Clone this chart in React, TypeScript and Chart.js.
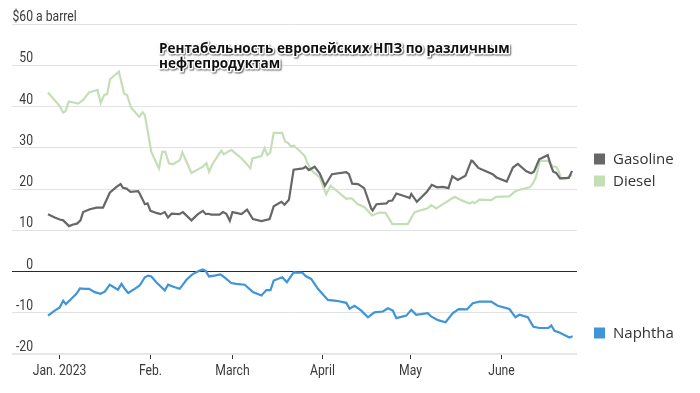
import React, { useEffect, useRef } from "react";
import { Chart, registerables } from "chart.js";

Chart.register(...registerables);

// Days counted from Jan 1, 2023 (day 0)
const monthTickDays = [0, 31, 59, 90, 120, 151];
const monthTickLabels = ["Jan. 2023", "Feb.", "March", "April", "May", "June"];
const yTickValues = [60, 50, 40, 30, 20, 10, 0, -10, -20];

const gasolineDays = [-3.7, -1.4, 0.3, 1.5, 3.5, 4.9, 6.2, 7.4, 8.3, 10.6, 12.9, 15.1, 17.4, 19.7, 21.1, 21.9, 23.1, 24.5, 27.1, 27.6, 29.4, 30.3, 31.3, 33.3, 34.7, 36.2, 37.3, 38.5, 41.1, 42.4, 45.3, 47.5, 49.2, 50.2, 51.0, 52.1, 54.9, 56.1, 57.2, 58.4, 59.3, 62.4, 64.3, 66.3, 69.2, 72.0, 73.4, 76.0, 77.1, 78.6, 80.2, 83.4, 84.3, 85.4, 87.4, 89.1, 90.9, 93.3, 98.2, 99.1, 100.2, 102.2, 104.3, 106.7, 107.2, 108.5, 111.9, 112.7, 113.9, 115.3, 119.2, 119.8, 120.4, 122.3, 125.8, 127.4, 129.2, 131.2, 133.1, 134.4, 136.3, 138.9, 140.9, 141.3, 143.3, 148.2, 149.5, 153.0, 155.1, 156.8, 159.7, 161.3, 162.3, 164.1, 167.0, 168.2, 168.9, 169.9, 171.2, 174.2, 175.3];
const gasolineValues = [13.9, 13.1, 12.6, 12.4, 11.0, 11.4, 11.6, 12.4, 14.4, 15.1, 15.5, 15.5, 19.1, 20.5, 21.2, 20.3, 20.1, 19.3, 19.5, 18.9, 16.3, 16.5, 14.7, 14.2, 13.9, 14.4, 13.1, 14.0, 13.9, 14.4, 12.4, 13.9, 14.7, 13.9, 14.0, 13.8, 13.8, 14.4, 14.0, 12.3, 14.4, 13.9, 15.0, 12.7, 12.2, 12.7, 15.8, 16.9, 16.2, 17.4, 24.7, 25.0, 25.4, 24.6, 25.4, 23.8, 20.8, 23.6, 24.1, 23.6, 21.3, 21.2, 20.2, 15.3, 14.8, 16.3, 16.5, 17.1, 17.2, 18.9, 18.0, 17.8, 18.8, 16.9, 19.4, 21.0, 20.4, 20.5, 20.2, 23.1, 22.2, 23.2, 26.9, 26.8, 25.1, 23.6, 22.8, 21.8, 25.2, 26.1, 24.3, 23.8, 24.2, 27.2, 28.2, 25.4, 24.2, 23.9, 22.6, 22.7, 24.4];

const dieselDays = [-3.7, 0.3, 1.5, 2.3, 3.4, 6.6, 8.3, 10.3, 13.2, 14.3, 15.5, 16.5, 17.5, 20.5, 22.3, 23.3, 24.6, 27.4, 28.6, 29.4, 31.6, 34.2, 35.3, 36.4, 37.6, 39.0, 41.3, 42.2, 45.3, 49.2, 50.4, 51.3, 52.6, 55.5, 56.3, 58.9, 61.8, 63.5, 65.4, 66.1, 69.2, 70.3, 71.2, 72.2, 73.4, 76.3, 77.3, 78.4, 79.2, 80.3, 82.3, 84.0, 84.8, 86.2, 89.1, 91.3, 92.8, 98.2, 100.0, 101.9, 104.4, 107.0, 109.4, 111.6, 113.9, 119.2, 121.5, 126.0, 127.2, 128.9, 135.2, 137.4, 140.3, 141.4, 142.0, 143.7, 147.7, 149.4, 153.9, 155.6, 156.8, 160.8, 161.9, 163.0, 164.3, 167.2, 168.9, 169.9, 170.8, 171.6, 173.3, 175.3];
const dieselValues = [43.4, 40.1, 38.5, 38.9, 41.2, 40.7, 41.6, 43.4, 44.0, 40.9, 42.8, 43.0, 46.6, 48.5, 43.1, 42.8, 39.8, 37.5, 38.6, 37.9, 29.0, 25.0, 29.0, 29.0, 26.2, 26.0, 27.0, 28.9, 23.9, 25.4, 26.3, 24.2, 26.2, 29.3, 28.4, 29.5, 27.8, 26.6, 25.0, 27.4, 28.0, 29.9, 28.2, 28.8, 33.6, 33.6, 31.5, 31.1, 30.3, 30.5, 29.2, 28.0, 26.5, 24.6, 22.8, 18.7, 20.8, 17.6, 17.8, 16.4, 15.6, 13.6, 14.3, 14.2, 11.5, 11.5, 14.4, 15.3, 16.1, 15.3, 18.1, 17.3, 16.5, 16.9, 16.5, 17.4, 17.3, 18.1, 18.2, 19.3, 19.7, 20.4, 21.3, 22.9, 26.8, 26.8, 25.4, 25.4, 24.2, 22.6, 22.6, 23.4];

const naphthaDays = [-3.7, -1.4, 0.3, 1.5, 2.4, 4.3, 6.0, 7.2, 8.9, 10.3, 12.3, 14.2, 15.7, 17.4, 20.2, 21.4, 22.5, 23.7, 25.9, 27.6, 29.4, 30.5, 31.6, 33.3, 36.2, 37.3, 39.6, 41.3, 43.6, 45.6, 47.8, 49.2, 50.2, 51.3, 53.2, 55.2, 56.7, 58.9, 60.6, 63.5, 66.3, 69.2, 70.9, 72.3, 73.4, 76.3, 77.9, 80.2, 83.2, 84.3, 86.2, 88.5, 91.9, 94.8, 98.2, 99.3, 101.0, 103.3, 105.6, 107.8, 110.7, 112.4, 114.1, 115.3, 118.7, 120.4, 122.1, 126.0, 127.2, 129.5, 132.1, 134.6, 136.6, 139.4, 141.4, 143.7, 147.7, 149.9, 153.9, 156.0, 157.3, 160.2, 162.1, 164.2, 167.2, 168.2, 169.3, 171.0, 174.4, 175.5];
const naphthaValues = [-10.7, -9.5, -8.7, -7.1, -7.9, -6.6, -5.4, -4.1, -4.2, -4.2, -5.0, -5.4, -4.9, -3.2, -4.4, -3.0, -4.2, -5.2, -4.2, -3.4, -1.4, -1.0, -1.2, -2.6, -4.6, -3.2, -3.8, -4.2, -2.0, -0.7, 0.1, 0.5, 0.1, -1.2, -1.0, -0.7, -1.5, -2.8, -3.0, -3.2, -5.0, -5.8, -4.5, -4.5, -2.2, -1.4, -2.6, -0.2, -0.3, -1.1, -1.8, -4.2, -6.9, -7.1, -7.6, -9.0, -8.3, -9.5, -11.1, -9.9, -9.7, -8.9, -9.5, -11.3, -10.7, -9.3, -10.5, -10.1, -10.9, -11.8, -12.3, -10.1, -9.1, -9.2, -7.7, -7.3, -7.3, -8.3, -9.1, -11.1, -10.5, -11.1, -13.4, -13.7, -13.7, -13.1, -14.4, -14.8, -16.0, -15.7];

const seriesNames = ["Gasoline", "Diesel", "Naphtha"];
const titleLines = ["Рентабельность европейских НПЗ по различным", "нефтепродуктам"];
const unitLabel = " a barrel";

const GAS = "#676767";
const DIESEL = "#c4dfb5";
const NAPH = "#3f95d8";

const toPts = (xs: number[], ys: number[]) => xs.map((x, i) => ({ x, y: ys[i] }));

const TICKFONT = "'Roboto', sans-serif";
const SANS = "'Open Sans', 'Noto Sans', sans-serif";
const SQUEEZE = 0.87;

export default function App() {
  const ref = useRef<HTMLCanvasElement | null>(null);

  useEffect(() => {
    document.body.style.margin = "0";
    const canvas = ref.current;
    if (!canvas) return;

    const drawNarrow = (ctx: CanvasRenderingContext2D, txt: string, x: number, y: number, align: "left" | "right" | "center") => {
      const w = ctx.measureText(txt).width * SQUEEZE;
      let left = x;
      if (align === "right") left = x - w;
      if (align === "center") left = x - w / 2;
      ctx.save();
      ctx.translate(left, y);
      ctx.scale(SQUEEZE, 1);
      ctx.textAlign = "left";
      ctx.fillText(txt, 0, 0);
      ctx.restore();
      return w;
    };

    const overlay = {
      id: "overlay",
      afterDraw(chart: any) {
        const ctx = chart.ctx as CanvasRenderingContext2D;
        const ys = chart.scales.y;
        const xs = chart.scales.x;
        const area = chart.chartArea;
        ctx.save();
        // y labels
        ctx.fillStyle = "#3a3a3a";
        ctx.font = `14px ${TICKFONT}`;
        ctx.textBaseline = "alphabetic";
        const labelRight = 33;
        yTickValues.forEach((v) => {
          const py = ys.getPixelForValue(v);
          const txt = v === 60 ? "$" + v : String(v);
          drawNarrow(ctx, txt, labelRight, py - 3, "right");
          if (v === 60) drawNarrow(ctx, unitLabel, labelRight, py - 3, "left");
        });
        // x ticks + labels
        ctx.strokeStyle = "#333";
        ctx.lineWidth = 1;
        monthTickDays.forEach((d, i) => {
          const px = Math.round(xs.getPixelForValue(d)) + 0.5;
          ctx.beginPath();
          ctx.moveTo(px, area.bottom + 1);
          ctx.lineTo(px, area.bottom + 5);
          ctx.stroke();
          drawNarrow(ctx, monthTickLabels[i], px, area.bottom + 21, "center");
        });
        // legend
        const legendY = [159, 181, 333];
        const legendColors = [GAS, DIESEL, NAPH];
        ctx.font = `15px ${SANS}`;
        ctx.textAlign = "left";
        ctx.textBaseline = "middle";
        seriesNames.forEach((n, i) => {
          ctx.fillStyle = legendColors[i];
          ctx.fillRect(594, legendY[i] - 5.5, 11, 11);
          ctx.fillStyle = "#333";
          ctx.fillText(n, 613, legendY[i] + 0.5);
        });
        // title with halo
        ctx.font = `bold 13.5px ${SANS}`;
        ctx.textBaseline = "alphabetic";
        ctx.textAlign = "left";
        const tBase = [53, 68];
        titleLines.forEach((t, i) => {
          ctx.save();
          ctx.shadowColor = "rgba(0,0,0,0.6)";
          ctx.shadowOffsetX = 1;
          ctx.shadowOffsetY = 1;
          ctx.shadowBlur = 1.5;
          ctx.strokeStyle = "#fff";
          ctx.lineWidth = 3;
          ctx.lineJoin = "round";
          ctx.strokeText(t, 159, tBase[i]);
          ctx.restore();
          ctx.fillStyle = "#111";
          ctx.fillText(t, 159, tBase[i]);
        });
        ctx.restore();
      },
    };

    const chart = new Chart(canvas, {
      type: "line",
      data: {
        datasets: [
          {
            label: seriesNames[0],
            data: toPts(gasolineDays, gasolineValues),
            borderColor: GAS,
            borderWidth: 2.2,
            pointRadius: 0,
            tension: 0,
            order: 1,
          },
          {
            label: seriesNames[1],
            data: toPts(dieselDays, dieselValues),
            borderColor: DIESEL,
            borderWidth: 2.2,
            pointRadius: 0,
            tension: 0,
            order: 2,
          },
          {
            label: seriesNames[2],
            data: toPts(naphthaDays, naphthaValues),
            borderColor: NAPH,
            borderWidth: 2.2,
            pointRadius: 0,
            tension: 0,
            order: 0,
          },
        ],
      },
      options: {
        responsive: false,
        animation: false,
        layout: { padding: { left: 12, right: 123, top: 24, bottom: 39 } },
        plugins: { legend: { display: false }, tooltip: { enabled: false } },
        scales: {
          x: {
            type: "linear",
            min: -16,
            max: 177,
            grid: { display: false },
            border: { display: false },
            ticks: { display: false },
            afterFit: (s: any) => {
              s.height = 0;
            },
          },
          y: {
            min: -20,
            max: 60,
            ticks: { display: false, stepSize: 10 },
            border: { display: false },
            grid: {
              drawTicks: false,
              color: (c: any) => (c.tick && c.tick.value === 0 ? "#2a2a2a" : c.tick && c.tick.value === -20 ? "#e6e6e6" : "#e2e2e2"),
              lineWidth: (c: any) => (c.tick && c.tick.value === -20 ? 2 : 1),
            },
            afterFit: (s: any) => {
              s.width = 0;
            },
          },
        },
      },
      plugins: [overlay],
    } as any);

    return () => chart.destroy();
  }, []);

  return (
    <div style={{ width: 700, height: 393 }}>
      <canvas ref={ref} width={700} height={393} style={{ display: "block" }} />
    </div>
  );
}
